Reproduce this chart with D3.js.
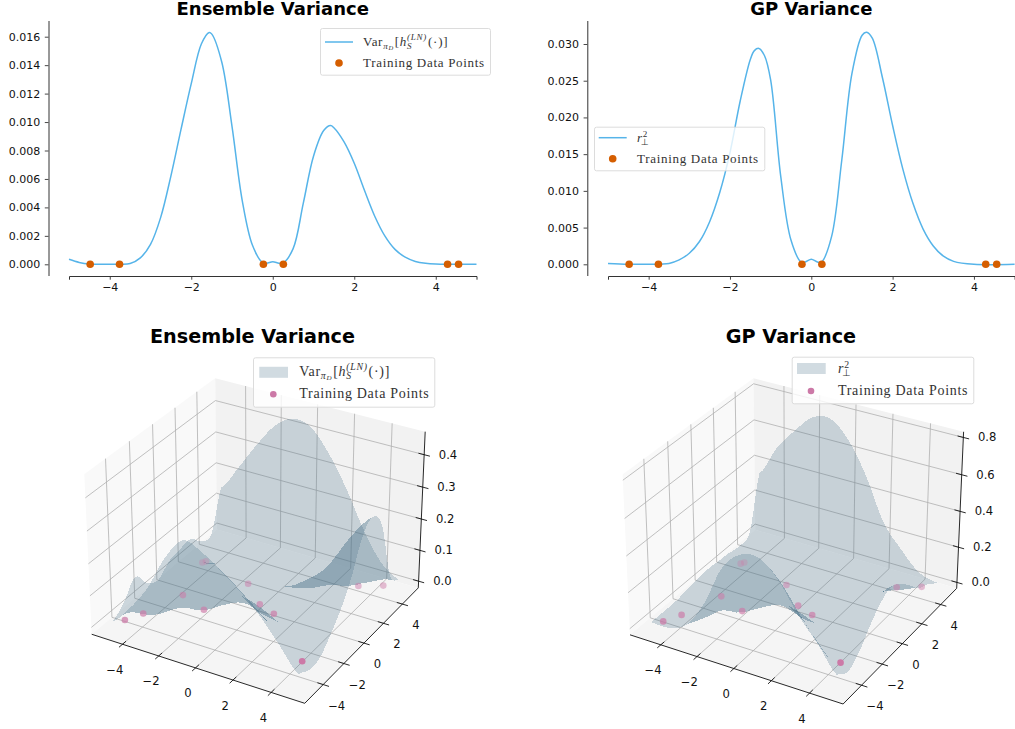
<!DOCTYPE html>
<html>
<head>
<meta charset="utf-8">
<script src="https://cdn.jsdelivr.net/npm/d3@7"></script>
<style>
  body { margin: 0; background: white; }
  text { font-family: "DejaVu Sans"; }
  .legendText { font-family: "Liberation Serif"; fill: #333; }
</style>
</head>
<body>
<div class="chart"></div>
<script>
//The curves on the top row.
const ensembleX = [-5, -4.75, -4.5, -4, -3.75, -3.5, -3.25, -3, -2.75, -2.5, -2.25, -2, -1.75, -1.56, -1.5, -1.25, -1, -0.75, -0.5, -0.25, -0.15, 0, 0.15, 0.25, 0.5, 0.75, 1, 1.25, 1.42, 1.5, 1.75, 2, 2.25, 2.5, 2.75, 3, 3.25, 3.5, 3.75, 4, 5];
const ensembleY = [0.00035, 0.00013, 0.00002, 0, 0, 0.00005, 0.00045, 0.0014, 0.0033, 0.0062, 0.0095, 0.0127, 0.0155, 0.0163, 0.0162, 0.0142, 0.0097, 0.0045, 0.00135, 0.00012, 0.00008, 0.00018, 0.00008, 0.00008, 0.0011, 0.0043, 0.0076, 0.0094, 0.00975, 0.0096, 0.0086, 0.0071, 0.0052, 0.0034, 0.002, 0.00105, 0.0005, 0.0002, 0.00007, 0.00002, 0];
const gpX = [-5, -4.5, -4, -3.5, -3.25, -3, -2.75, -2.5, -2.25, -2, -1.75, -1.5, -1.4, -1.29, -1.15, -1, -0.75, -0.5, -0.25, -0.15, 0, 0.15, 0.25, 0.5, 0.75, 1, 1.25, 1.36, 1.5, 1.75, 2, 2.25, 2.5, 2.75, 3, 3.25, 3.5, 4, 5];
const gpY = [0.00012, 0.00002, 0, 0.00012, 0.0006, 0.0015, 0.0031, 0.0058, 0.0098, 0.0152, 0.0222, 0.0279, 0.0291, 0.0294, 0.0284, 0.0251, 0.0119, 0.0033, 0.0003, 0.0003, 0.0007, 0.0003, 0.0003, 0.0038, 0.0142, 0.026, 0.0312, 0.0316, 0.0308, 0.0254, 0.0189, 0.013, 0.0083, 0.0048, 0.0025, 0.0011, 0.0004, 0, 0];
const trainX = [-4.48, -3.76, -0.23, 0.26, 4.29, 4.56];

const xTicks2d = [-4, -2, 0, 2, 4];
const ensembleTicks = [0, 0.002, 0.004, 0.006, 0.008, 0.01, 0.012, 0.014, 0.016];
const gpTicks = [0, 0.005, 0.01, 0.015, 0.02, 0.025, 0.03];

//The surfaces on the bottom row. Rows are y = -5..5, columns are x = -5..5.
const gridAxis = [-5, -4, -3, -2, -1, 0, 1, 2, 3, 4, 5];
const ensembleGrid = [
    [.01, .07, .15, .26, .33, .31, .27, .225, .17, .10, .03],
    [.04, .02, .05, .13, .20, .21, .19, .15, .11, .04, .01],
    [.09, .01, .02, .06, .12, .14, .13, .09, .05, .003, .015],
    [.04, .03, .02, .005, .04, .08, .08, .05, .005, .008, .055],
    [.02, .01, .005, .01, .02, .03, .01, .005, .02, .05, .105],
    [.05, .03, .03, .03, .01, .002, .005, .02, .06, .10, .175],
    [.06, .04, .04, .02, .003, .025, .04, .08, .13, .21, .27],
    [.065, .005, .03, .03, .01, .01, .01, .03, .10, .22, .30],
    [.03, .03, .06, .08, .06, .03, .02, .01, .03, .13, .245],
    [.025, .06, .12, .20, .25, .25, .20, .05, .005, .02, .06],
    [.15, .23, .315, .39, .43, .42, .355, .26, .145, .055, .015]
];
const gpGrid = [
    [.02, .02, .07, .22, .44, .54, .55, .46, .31, .19, .055],
    [.02, .02, .04, .13, .28, .37, .38, .30, .18, .06, .015],
    [.02, .01, .03, .08, .16, .24, .22, .15, .08, .005, .055],
    [.03, .04, .03, .005, .06, .12, .12, .08, .01, .02, .14],
    [.04, .02, .01, .01, .03, .05, .01, .01, .04, .12, .21],
    [.05, .03, .04, .04, .015, .002, .01, .03, .08, .14, .25],
    [.045, .05, .05, .03, .005, .02, .03, .05, .08, .14, .22],
    [.04, .005, .04, .05, .03, .05, .05, .05, .06, .10, .16],
    [.03, .05, .10, .18, .24, .20, .12, .05, .03, .05, .09],
    [.06, .12, .24, .38, .46, .44, .32, .10, .01, .02, .06],
    [.35, .52, .64, .74, .76, .67, .50, .27, .145, .045, .015]
];

//The training points in the bottom row, they sit at the bottom of the surface.
const pointsX = [-4.72, -4.28, -3.53, -1.96, -4.32, -4.22, -1.34, 0.1, 1.1, 4.25, 3.4, 4.43];
const pointsY = [-4.40, -3.48, -1.11, -1.75, 1.99, 2.17, 1.37, 0.01, -0.39, -3.3, 3.86, 4.5];

const xTicks3d = [-4, -2, 0, 2, 4];
const ensembleZTicks = [0, 0.1, 0.2, 0.3, 0.4];
const gpZTicks = [0, 0.2, 0.4, 0.6, 0.8];

const blue = "#56B4E9";
const orange = "#D55E00";
const pink = "#CC79A7";
const surfaceColor = "rgb(70,110,135)";

let svg = d3.select(".chart").append("svg")
    .attr("width", 1015)
    .attr("height", 729)
    .style("display", "block");

//Top row
drawCurve({
    title: "Ensemble Variance", titleX: 272.7,
    xs: ensembleX, ys: ensembleY, ticks: ensembleTicks, tickFormat: ".3f",
    xRange: [69, 476.5], yDomain: [0, 0.016], yRange: [264.3, 36.7],
    spineX: 48.5, legend: { x: 320, y: 28, w: 170, h: 46.7, sampleX: 325, textX: 363, row1: 42, row2: 63, math: "var" }
});
drawCurve({
    title: "GP Variance", titleX: 811.3,
    xs: gpX, ys: gpY, ticks: gpTicks, tickFormat: ".3f",
    xRange: [608, 1014.6], yDomain: [0, 0.03], yRange: [264.3, 44],
    spineX: 587.3, legend: { x: 594, y: 126.7, w: 170.3, h: 43.6, sampleX: 598.7, textX: 637, row1: 137.7, row2: 158.7, math: "r" }
});

//Bottom row
drawSurface({
    title: "Ensemble Variance", titleX: 252.5,
    grid: ensembleGrid, zTicks: ensembleZTicks, zLim: [-0.022, 0.47],
    corners: { left: 91.7, right: 418.3, front: 703.3, top: 378.3 },
    legend: { x: 253, y: 357.3, w: 181.3, h: 49.4, patchX: 259.3, textX: 299.3, row1: 372.3, row2: 394.3, math: "var" }
});
drawSurface({
    title: "GP Variance", titleX: 791,
    grid: gpGrid, zTicks: gpZTicks, zLim: [-0.034, 0.83],
    corners: { left: 630, right: 956.7, front: 704, top: 378.3 },
    legend: { x: 791.7, y: 356.7, w: 181.6, h: 46.6, patchX: 797, textX: 838, row1: 368.5, row2: 391, math: "r" }
});


function drawCurve(o) {
    let g = svg.append("g");

    let x = d3.scaleLinear().domain([-5, 5]).range(o.xRange);
    let y = d3.scaleLinear().domain(o.yDomain).range(o.yRange);

    g.append("text")
        .attr("x", o.titleX).attr("y", 14.5)
        .attr("text-anchor", "middle")
        .style("font-size", "18px").style("font-weight", "bold")
        .text(o.title);

    //the spines are pushed away from the plot
    let yAxis = g.append("g")
        .attr("transform", `translate(${o.spineX},0)`)
        .call(d3.axisLeft(y).tickValues(o.ticks).tickFormat(d3.format(o.tickFormat)).tickSize(3.7).tickPadding(4.5));
    yAxis.select(".domain").attr("d", `M0.5,21V276`);
    let xAxis = g.append("g")
        .attr("transform", "translate(0,276)")
        .call(d3.axisBottom(x).tickValues(xTicks2d).tickSize(3.7).tickPadding(3.5));
    g.selectAll(".tick text").style("font-size", "11px").style("font-family", "DejaVu Sans").attr("fill", "#111");
    g.selectAll(".domain").attr("stroke", "#333").attr("stroke-width", 1);
    g.selectAll(".tick line").attr("stroke", "#333").attr("stroke-width", 0.9);

    let line = d3.line()
        .x((d, i) => x(o.xs[i]))
        .y(d => y(d))
        .curve(d3.curveCatmullRom);
    g.append("path")
        .attr("d", line(o.ys))
        .attr("fill", "none")
        .attr("stroke", blue)
        .attr("stroke-width", 1.5);

    g.selectAll("circle.train")
        .data(trainX).enter()
        .append("circle")
        .attr("class", "train")
        .attr("cx", d => x(d))
        .attr("cy", y(0))
        .attr("r", 3.8)
        .attr("fill", orange);

    drawLegendBox(g, o.legend);
    g.append("line")
        .attr("x1", o.legend.sampleX).attr("x2", o.legend.sampleX + 28)
        .attr("y1", o.legend.row1).attr("y2", o.legend.row1)
        .attr("stroke", blue).attr("stroke-width", 1.5);
    g.append("circle")
        .attr("cx", o.legend.sampleX + 14).attr("cy", o.legend.row2)
        .attr("r", 3.8).attr("fill", orange);
    legendLabels(g, o.legend, 13, 0.7);
}


function drawLegendBox(g, l) {
    g.append("rect")
        .attr("x", l.x + 0.5).attr("y", l.y + 0.5)
        .attr("width", l.w).attr("height", l.h)
        .attr("rx", 2)
        .attr("fill", "white").attr("fill-opacity", 0.8)
        .attr("stroke", "#d8d8d8").attr("stroke-width", 0.9);
}


function legendLabels(g, l, size, spacing) {
    let label = g.append("text")
        .attr("class", "legendText")
        .attr("x", l.textX).attr("y", l.row1 + 4)
        .style("font-size", size + "px")
        .style("letter-spacing", spacing + "px");

    if (l.math == "var") {
        label.append("tspan").text("Var");
        label.append("tspan").attr("dy", 3).style("font-size", size * 0.7 + "px").style("font-style", "italic").text("π");
        label.append("tspan").attr("dy", 1).style("font-size", size * 0.5 + "px").style("font-style", "italic").text("D");
        label.append("tspan").attr("dy", -4).attr("dx", 1).text("[");
        label.append("tspan").style("font-style", "italic").text("h");
        label.append("tspan").attr("dy", 3).style("font-size", size * 0.7 + "px").style("font-style", "italic").text("S");
        label.append("tspan").attr("dy", -9).attr("dx", -size * 0.4).style("font-size", size * 0.7 + "px").style("font-style", "italic").text("(LN)");
        label.append("tspan").attr("dy", 6).attr("dx", 1).text("(·)]");
    } else {
        label.append("tspan").style("font-style", "italic").text("r");
        label.append("tspan").attr("dy", -5).style("font-size", size * 0.7 + "px").text("2");
        label.append("tspan").attr("dy", 8).attr("dx", -size * 0.55).style("font-size", size * 0.7 + "px").style("font-family", "DejaVu Sans").text("⊥");
    }

    g.append("text")
        .attr("class", "legendText")
        .attr("x", l.textX).attr("y", l.row2 + 4)
        .style("font-size", size + "px")
        .style("letter-spacing", spacing + "px")
        .text("Training Data Points");
}


//Same camera matplotlib uses for a default 3D axes: elev 30, azim -60, dist 10.
function makeProjection(o) {
    const xLim = [-5.73, 5.73];
    const box = { x: 1.143, y: 1.143, z: 0.857 };
    let bx = d3.scaleLinear().domain(xLim).range([0, box.x]);
    let by = d3.scaleLinear().domain(xLim).range([0, box.y]);
    let bz = d3.scaleLinear().domain(o.zLim).range([0, box.z]);

    const el = 30 * Math.PI / 180;
    const az = -60 * Math.PI / 180;
    let w = [Math.cos(el) * Math.cos(az), Math.cos(el) * Math.sin(az), Math.sin(el)];
    let centre = [box.x / 2, box.y / 2, box.z / 2];
    let eye = centre.map((c, i) => c + 10 * w[i]);

    let norm = a => { let n = Math.hypot(...a); return a.map(v => v / n); };
    let cross = (a, b) => [a[1] * b[2] - a[2] * b[1], a[2] * b[0] - a[0] * b[2], a[0] * b[1] - a[1] * b[0]];
    let dot = (a, b) => a[0] * b[0] + a[1] * b[1] + a[2] * b[2];
    let u = norm(cross([0, 0, 1], w));
    let v = cross(w, u);

    function raw(x, y, z) {
        let d = [bx(x) - eye[0], by(y) - eye[1], bz(z) - eye[2]];
        let depth = -dot(w, d);
        return [dot(u, d) / depth, dot(v, d) / depth, depth];
    }

    //screen scales pinned on the corners of the box
    let [zMin, zMax] = o.zLim;
    let sx = d3.scaleLinear()
        .domain([raw(xLim[0], xLim[0], zMin)[0], raw(xLim[1], xLim[1], zMin)[0]])
        .range([o.corners.left, o.corners.right]);
    let sy = d3.scaleLinear()
        .domain([raw(xLim[1], xLim[0], zMin)[1], raw(xLim[0], xLim[1], zMax)[1]])
        .range([o.corners.front, o.corners.top]);

    let project = (x, y, z) => {
        let p = raw(x, y, z);
        return [sx(p[0]), sy(p[1]), p[2]];
    };
    project.lim = xLim;
    return project;
}


//Catmull-Rom through the grid values so the sheet doesn't look faceted
function sampleGrid(grid, gx, gy) {
    let clampI = i => Math.max(0, Math.min(gridAxis.length - 1, i));
    let cr = (p0, p1, p2, p3, t) => 0.5 * (2 * p1 + (p2 - p0) * t + (2 * p0 - 5 * p1 + 4 * p2 - p3) * t * t + (3 * p1 - p0 - 3 * p2 + p3) * t * t * t);
    let fx = gx + 5, fy = gy + 5;
    let ix = Math.min(Math.floor(fx), 9), iy = Math.min(Math.floor(fy), 9);
    let tx = fx - ix, ty = fy - iy;
    let rows = [-1, 0, 1, 2].map(k => {
        let r = grid[clampI(iy + k)];
        return cr(r[clampI(ix - 1)], r[clampI(ix)], r[clampI(ix + 1)], r[clampI(ix + 2)], tx);
    });
    return Math.max(0, cr(rows[0], rows[1], rows[2], rows[3], ty));
}


function drawSurface(o) {
    let g = svg.append("g");
    let p = makeProjection(o);
    let [lo, hi] = p.lim;
    let [zMin, zMax] = o.zLim;
    let path = pts => "M" + pts.map(d => { let q = p(d[0], d[1], d[2]); return q[0] + "," + q[1]; }).join("L");

    g.append("text")
        .attr("x", o.titleX).attr("y", 342.7)
        .attr("text-anchor", "middle")
        .style("font-size", "19.2px").style("font-weight", "bold")
        .text(o.title);

    //panes
    g.append("path").attr("fill", "#f9f9f9")
        .attr("d", path([[lo, lo, zMin], [lo, hi, zMin], [lo, hi, zMax], [lo, lo, zMax]]) + "Z");
    g.append("path").attr("fill", "#f2f2f2")
        .attr("d", path([[lo, hi, zMin], [hi, hi, zMin], [hi, hi, zMax], [lo, hi, zMax]]) + "Z");
    g.append("path").attr("fill", "#f5f5f5")
        .attr("d", path([[lo, lo, zMin], [hi, lo, zMin], [hi, hi, zMin], [lo, hi, zMin]]) + "Z");

    //grid lines
    let grid = g.append("g").attr("fill", "none").attr("stroke", "#b0b0b0").attr("stroke-width", 0.8);
    xTicks3d.forEach(t => {
        grid.append("path").attr("d", path([[t, lo, zMin], [t, hi, zMin], [t, hi, zMax]]));
        grid.append("path").attr("d", path([[hi, t, zMin], [lo, t, zMin], [lo, t, zMax]]));
    });
    o.zTicks.forEach(t => {
        grid.append("path").attr("d", path([[lo, lo, t], [lo, hi, t], [hi, hi, t]]));
    });

    //axis lines and ticks
    let axes = g.append("g").attr("fill", "none").attr("stroke", "#111").attr("stroke-width", 0.9);
    axes.append("path").attr("d", path([[lo, lo, zMin], [hi, lo, zMin], [hi, hi, zMin], [hi, hi, zMax]]));
    const tickOut = 0.3;
    xTicks3d.forEach(t => {
        axes.append("path").attr("d", path([[t, lo - tickOut, zMin], [t, lo + tickOut, zMin]]));
        axes.append("path").attr("d", path([[hi + tickOut, t, zMin], [hi - tickOut, t, zMin]]));
    });
    o.zTicks.forEach(t => {
        axes.append("path").attr("d", path([[hi + tickOut, hi, t], [hi - tickOut, hi, t]]));
    });

    //tick labels
    let labels = g.append("g").attr("text-anchor", "middle").style("font-size", "11.6px").attr("fill", "#111");
    let fmt = d3.format("d");
    xTicks3d.forEach(t => {
        let q = p(t, lo, zMin);
        labels.append("text").attr("x", q[0] - 7.7).attr("y", q[1] + 29.5).text(fmt(t).replace("-", "−"));
        let r = p(hi, t, zMin);
        labels.append("text").attr("x", r[0] + 13.5).attr("y", r[1] + 25).text(fmt(t).replace("-", "−"));
    });
    o.zTicks.forEach(t => {
        let q = p(hi, hi, t);
        labels.append("text").attr("x", q[0] + 23.8).attr("y", q[1] + 4).text(d3.format(".1f")(t));
    });

    //the sheet: every small cell gets the same translucent fill, so overlaps go darker
    const steps = 50;
    let cells = [];
    let at = d3.scaleLinear().domain([0, steps]).range([-5, 5]);
    for (let j = 0; j < steps; j++) {
        for (let i = 0; i < steps; i++) {
            let c = [[i, j], [i + 1, j], [i + 1, j + 1], [i, j + 1]].map(k => {
                let gx = at(k[0]), gy = at(k[1]);
                return [gx, gy, sampleGrid(o.grid, gx, gy)];
            });
            cells.push(path(c) + "Z");
        }
    }
    g.append("g")
        .style("filter", "blur(0.5px)")
        .selectAll("path")
        .data(cells).enter()
        .append("path")
        .attr("d", d => d)
        .attr("fill", surfaceColor)
        .attr("fill-opacity", 0.25)
        .attr("shape-rendering", "crispEdges");

    //training points, further ones fade like matplotlib's depthshade
    let depths = pointsX.map((d, i) => p(d, pointsY[i], 0)[2]);
    let fade = d3.scaleLinear().domain(d3.extent(depths)).range([1, 0.3]);
    g.selectAll("circle.train")
        .data(pointsX).enter()
        .append("circle")
        .attr("class", "train")
        .attr("cx", (d, i) => p(d, pointsY[i], 0)[0])
        .attr("cy", (d, i) => p(d, pointsY[i], 0)[1])
        .attr("r", 3.3)
        .attr("fill", pink)
        .attr("fill-opacity", (d, i) => fade(depths[i]));

    drawLegendBox(g, o.legend);
    g.append("rect")
        .attr("x", o.legend.patchX).attr("y", o.legend.row1 - 5.5)
        .attr("width", 28.7).attr("height", 11)
        .attr("fill", surfaceColor).attr("fill-opacity", 0.25);
    g.append("circle")
        .attr("cx", o.legend.patchX + 14).attr("cy", o.legend.row2)
        .attr("r", 3.3).attr("fill", pink);
    legendLabels(g, o.legend, 14, 0.7);
}
</script>
</body>
</html>
